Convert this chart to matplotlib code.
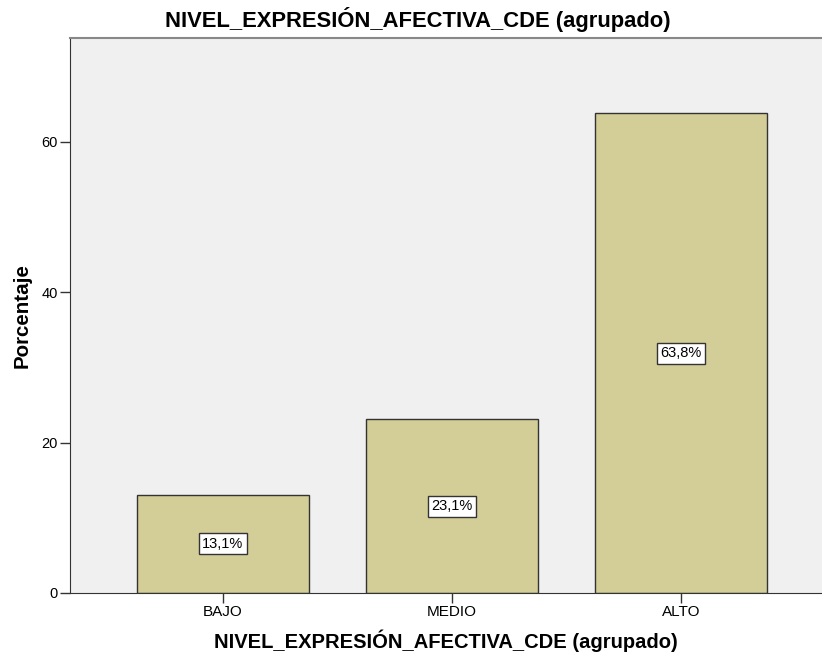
import matplotlib
matplotlib.use("Agg")
import matplotlib.pyplot as plt

categories = ["BAJO", "MEDIO", "ALTO"]
values = [13.1, 23.1, 63.8]
labels = ["13,1%", "23,1%", "63,8%"]
yticks = [0, 20, 40, 60]

plt.rcParams['font.family'] = ['Liberation Sans', 'DejaVu Sans']

fig = plt.figure(figsize=(8.22, 6.54), dpi=100)
ax = fig.add_axes([70/822, 61/654, 752/822, 555/654])
ax.set_facecolor("#F0F0F0")
x = list(range(len(categories)))
ax.bar(x, values, width=0.751, color="#D3CE97", edgecolor="#333333", linewidth=1.0, zorder=2)
for xi, v, lab in zip(x, values, labels):
    ax.text(xi, v / 2, lab, ha="center", va="center", fontsize=10.5,
            bbox=dict(boxstyle="square,pad=0.25", facecolor="white", edgecolor="#333333", linewidth=1.0), zorder=3)

ax.set_xlim(-0.668, 2.616)
ax.set_ylim(0, 73.83)
ax.set_xticks(x)
ax.set_xticklabels(categories, fontsize=11)
ax.set_yticks(yticks)
ax.set_yticklabels([str(t) for t in yticks], fontsize=10.5)
ax.tick_params(axis="both", length=7, width=1, color="#333333", pad=2)
ax.spines["right"].set_visible(False)
ax.spines["top"].set_color("#888888")
ax.spines["top"].set_linewidth(1.5)
ax.spines["left"].set_color("#333333")
ax.spines["bottom"].set_color("#333333")
ax.set_xlabel("NIVEL_EXPRESIÓN_AFECTIVA_CDE (agrupado)", fontsize=14.5, fontweight="bold", labelpad=7)
ax.set_ylabel("Porcentaje", fontsize=14.8, fontweight="bold", labelpad=7)
fig.text(418/822, 1 - 20/654, "NIVEL_EXPRESIÓN_AFECTIVA_CDE (agrupado)", ha="center", va="center",
         fontsize=15.8, fontweight="bold")

fig.savefig("out.png", dpi=100)
